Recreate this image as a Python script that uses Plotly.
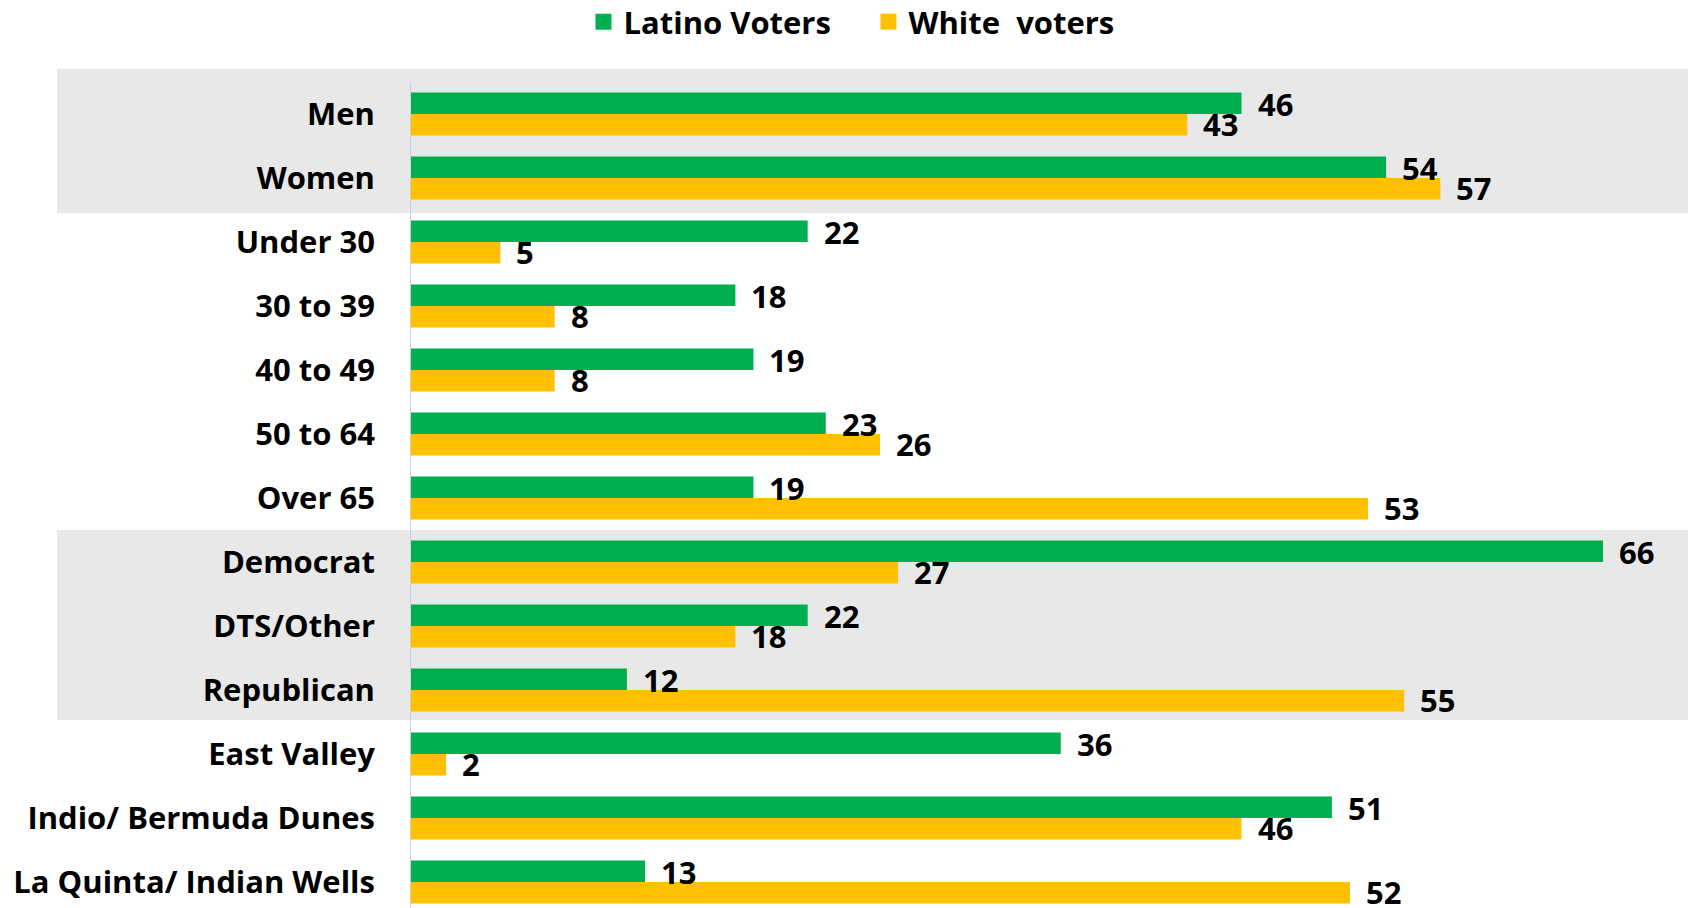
import plotly.graph_objects as go

categories = [
    "Men", "Women", "Under 30", "30 to 39", "40 to 49", "50 to 64", "Over 65",
    "Democrat", "DTS/Other", "Republican", "East Valley",
    "Indio/ Bermuda Dunes", "La Quinta/ Indian Wells",
]
latino_voters = [46, 54, 22, 18, 19, 23, 19, 66, 22, 12, 36, 51, 13]
white_voters = [43, 57, 5, 8, 8, 26, 53, 27, 18, 55, 2, 46, 52]

GREEN = "#00B050"
GOLD = "#FFC000"
BAND = "#E8E8E8"
FONT = "Open Sans"
FS = 31

fig = go.Figure()
fig.add_trace(go.Bar(
    y=categories, x=latino_voters, orientation="h", name="Latino Voters",
    marker=dict(color=GREEN, line=dict(width=0)), showlegend=False,
))
fig.add_trace(go.Bar(
    y=categories, x=white_voters, orientation="h", name="White  voters",
    marker=dict(color=GOLD, line=dict(width=0)), showlegend=False,
))
# legend entries with larger square swatches
for name, color in [("Latino Voters", GREEN), ("White  voters", GOLD)]:
    fig.add_trace(go.Scatter(
        x=[None], y=[None], mode="markers", name=name,
        marker=dict(symbol="square", size=19, color=color),
    ))

# value labels to the right of each bar
half = 0.672 / 4 * 64  # pixel offset of each bar centre within its group
for cat, lv, wv in zip(categories, latino_voters, white_voters):
    fig.add_annotation(x=lv, y=cat, text=str(lv), showarrow=False,
                       xanchor="left", xshift=14, yshift=half - 1,
                       font=dict(family=FONT, size=FS, color="black", weight="bold"))
    fig.add_annotation(x=wv, y=cat, text=str(wv), showarrow=False,
                       xanchor="left", xshift=14, yshift=-half + 1,
                       font=dict(family=FONT, size=FS, color="black", weight="bold"))

# shaded groups: gender and party
x0_band = (57 - 410) / 1278
fig.add_shape(type="rect", xref="paper", yref="y", x0=x0_band, x1=1,
              y0=-0.703, y1=1.55, fillcolor=BAND, line=dict(width=0), layer="below")
fig.add_shape(type="rect", xref="paper", yref="y", x0=x0_band, x1=1,
              y0=6.5, y1=9.47, fillcolor=BAND, line=dict(width=0), layer="below")
# category axis line
fig.add_shape(type="line", xref="x", yref="y", x0=0, x1=0, y0=-0.5, y1=12.5,
              line=dict(color="#D0D0D0", width=2))

fig.update_layout(
    width=1688, height=908,
    margin=dict(l=410, r=0, t=69, b=0),
    paper_bgcolor="white", plot_bgcolor="rgba(0,0,0,0)",
    barmode="group", bargap=0.328, bargroupgap=0,
    font=dict(family=FONT, size=FS, color="black"),
    legend=dict(orientation="h", xref="container", yref="container",
                x=0.5145, xanchor="center", y=1 - 22 / 908, yanchor="middle",
                itemsizing="trace", itemwidth=30, entrywidth=240,
                font=dict(family=FONT, size=FS, color="black", weight="bold"),
                bgcolor="rgba(0,0,0,0)"),
    xaxis=dict(range=[0, 70.7], showgrid=False, zeroline=False,
               showticklabels=False, showline=False),
    yaxis=dict(type="category", categoryorder="array", categoryarray=categories,
               range=[12.406, -0.703], showgrid=False, zeroline=False,
               showline=False, ticks="", ticklabelstandoff=34,
               tickfont=dict(family=FONT, size=FS, color="black", weight="bold")),
)

fig.write_html("out.html")
